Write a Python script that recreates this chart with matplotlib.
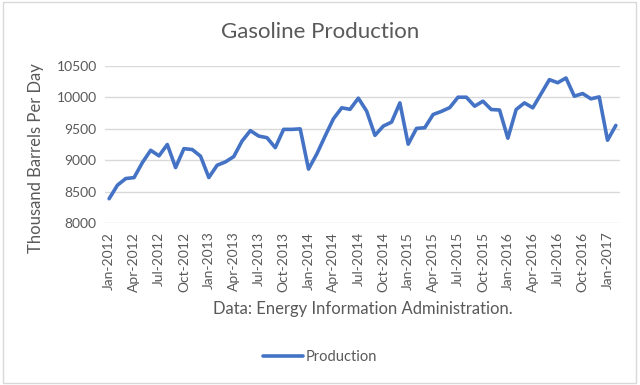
import matplotlib
matplotlib.use("Agg")
import matplotlib.pyplot as plt
import pandas as pd

# ── Dados ─────────────────────────────────────────────────────────────────
months = pd.date_range("2012-01-01", "2017-02-01", freq="MS")
production = [
    8390, 8605, 8710, 8725, 8963, 9158, 9070, 9250, 8884, 9184, 9170, 9065,   # 2012
    8726, 8921, 8974, 9058, 9305, 9470, 9384, 9358, 9200, 9490, 9490, 9498,   # 2013
    8860, 9100, 9384, 9658, 9832, 9808, 9985, 9779, 9395, 9542, 9605, 9910,   # 2014
    9255, 9505, 9516, 9726, 9775, 9835, 10000, 10000, 9858, 9937, 9805, 9797,  # 2015
    9350, 9805, 9910, 9832, 10055, 10279, 10230, 10305, 10016, 10058, 9975, 10005,  # 2016
    9318, 9553,                                                                 # 2017
]
labels = [m.strftime("%b-%Y") for m in months]

BLUE = "#4472C4"
GRID = "#D9D9D9"
TXT = "#595959"

plt.rcParams["font.family"] = ["Lato", "DejaVu Sans"]

fig = plt.figure(figsize=(6.4, 3.85), dpi=100)
ax = fig.add_axes([105/640, 1 - 223.3/385, 515/640, 157.6/385])

x = list(range(len(production)))
ax.plot(x, production, color=BLUE, lw=2.6, solid_joinstyle="round",
        solid_capstyle="round", label="Production")

ax.set_ylim(8000, 10500)
ax.set_yticks(range(8000, 10501, 500))
ax.set_xlim(-0.5, len(production) - 0.5)
ax.set_xticks(x[::3])
ax.set_xticklabels(labels[::3], rotation=90)
ax.grid(axis="y", color=GRID, lw=1)
ax.set_axisbelow(True)
for s in ax.spines.values():
    s.set_visible(False)
ax.tick_params(length=0, labelsize=10, colors=TXT, pad=6)

ax.set_xlabel("Data: Energy Information Administration.", fontsize=12,
              color=TXT, labelpad=7)
fig.text(0.057, 1 - 158/385, "Thousand Barrels Per Day", rotation=90,
         ha="center", va="center", fontsize=12, color=TXT)
fig.text(0.5, 1 - 32/385, "Gasoline Production", ha="center", va="center",
         fontsize=16, color=TXT)

fig.legend(loc="center", bbox_to_anchor=(0.5, 1 - 357/385), frameon=False,
           fontsize=10.5, labelcolor=TXT, handlelength=2.7, handletextpad=0.2)

# borda da área do gráfico
fig.patches.append(plt.Rectangle((0.004, 0.005), 0.99, 0.99, transform=fig.transFigure,
                                 fill=False, edgecolor=GRID, lw=1))

fig.savefig("out.png", dpi=100)
